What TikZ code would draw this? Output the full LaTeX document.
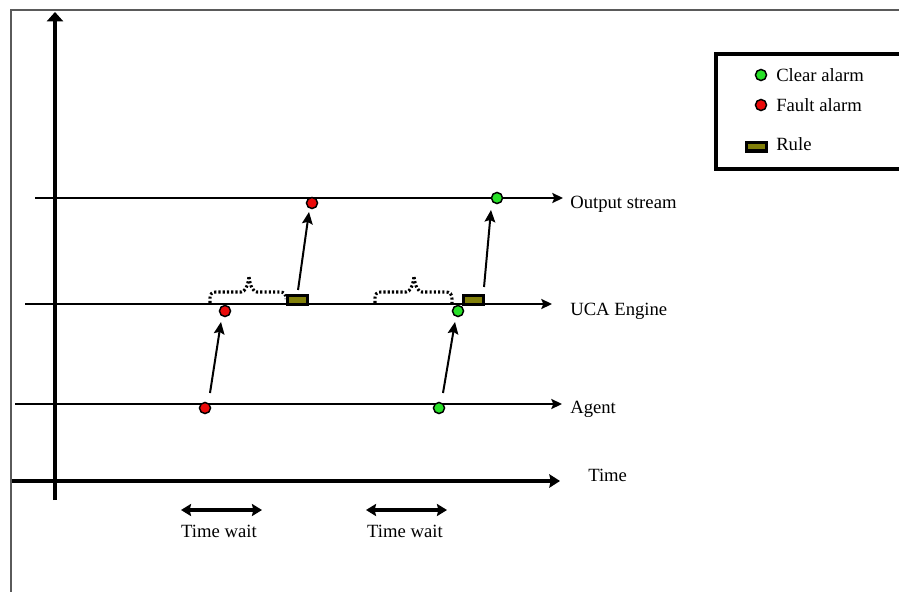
\documentclass[tikz,border=0pt]{standalone}
\usepackage{fontspec}
\setmainfont{Liberation Serif}
\usetikzlibrary{arrows.meta}
\definecolor{dotgreen}{RGB}{40,225,40}
\definecolor{dotred}{RGB}{235,10,10}
\definecolor{ruleolive}{RGB}{130,128,10}
\definecolor{framegray}{RGB}{90,90,90}
\begin{document}
\begin{tikzpicture}[x=0.75pt,y=-0.75pt,
  font=\fontsize{14}{16}\selectfont,
  dot/.style={circle, draw=black, line width=1.1pt, minimum size=8.3pt, inner sep=0pt},
  rulebox/.style={draw=black, line width=2.4pt, fill=ruleolive, minimum width=15pt, minimum height=6.6pt, inner sep=0pt},
  stream/.style={line width=1.6pt, -{Stealth[length=8pt,width=7.5pt,inset=1.5pt]}},
  timeaxis/.style={line width=2.8pt, -{Stealth[length=8pt,width=10pt,inset=1pt]}},
  vaxis/.style={line width=2.4pt, -{Triangle[length=7pt,width=12pt]}},
  evarrow/.style={line width=1.5pt, -{Stealth[length=9pt,width=8pt,inset=1.5pt]}},
  twarrow/.style={line width=2.6pt, {Stealth[length=7.5pt,width=9pt,inset=1pt]}-{Stealth[length=7.5pt,width=9pt,inset=1pt]}},
  brace/.style={line width=2.3pt, dash pattern=on 1.6pt off 1.6pt},
  lbl/.style={anchor=base west, inner sep=0pt},
  twlbl/.style={anchor=base, inner sep=0pt},
  legendframe/.style={line width=2.6pt},
  frame/.style={draw=framegray, line width=1.1pt}
]
\useasboundingbox (0,0) rectangle (899,592);
% outer frame
\draw[frame] (11,592) -- (11,10) -- (899,10);
% axes
\coordinate (vB) at (55,500);
\coordinate (vT) at (55,12);
\draw[vaxis] (vB) -- (vT);
\coordinate (tS) at (12,481);
\coordinate (tE) at (560,481);
\draw[timeaxis] (tS) -- (tE);
\node[lbl] (timeL) at (588,481) {Time};
% streams
\coordinate (oS) at (35,198);
\coordinate (oE) at (563,198);
\draw[stream] (oS) -- (oE);
\node[lbl] (oL) at (570,208) {Output stream};
\coordinate (uS) at (25,304);
\coordinate (uE) at (552,304);
\draw[stream] (uS) -- (uE);
\node[lbl] (uL) at (570,315) {UCA Engine};
\coordinate (aS) at (15,404);
\coordinate (aE) at (562,404);
\draw[stream] (aS) -- (aE);
\node[lbl] (aL) at (570,413) {Agent};
% braces
\draw[brace] (210,303) -- (210,298) .. controls (210,294) and (212,292) .. (216,292) -- (241,292)
  .. controls (245,292) and (248,286) .. (249,276) .. controls (250,286) and (253,292) .. (257,292)
  -- (280,292) .. controls (284,292) and (286,294) .. (286,299);
\draw[brace] (375,303) -- (375,298) .. controls (375,294) and (377,292) .. (381,292) -- (406,292)
  .. controls (410,292) and (413,286) .. (414,276) .. controls (415,286) and (418,292) .. (422,292)
  -- (446,292) .. controls (450,292) and (452,294) .. (452,299) -- (452,303);
% events
\node[dot,fill=dotred] (aF) at (205,408) {};
\node[dot,fill=dotgreen] (aC) at (439,408) {};
\node[dot,fill=dotred] (uF) at (225,311) {};
\node[dot,fill=dotgreen] (uC) at (458,311) {};
\node[dot,fill=dotred] (oF) at (312,203) {};
\node[dot,fill=dotgreen] (oC) at (497,198) {};
\node[rulebox] (r1) at (297.5,300) {};
\node[rulebox] (r2) at (473.5,300) {};
% connectors
\draw[evarrow] ([xshift=3.75pt,yshift=11.25pt]aF.center) -- ([xshift=-3pt,yshift=-8.25pt]uF.center);
\draw[evarrow] ([xshift=3pt,yshift=11.25pt]aC.center) -- ([xshift=-2.25pt,yshift=-8.25pt]uC.center);
\draw[evarrow] ([xshift=0.4pt,yshift=7.5pt]r1.center) -- ([xshift=-2.25pt,yshift=-6.75pt]oF.center);
\draw[evarrow] ([xshift=7.9pt,yshift=9.75pt]r2.center) -- ([xshift=-4.5pt,yshift=-9pt]oC.center);
% time wait
\coordinate (w1a) at (181,510);
\coordinate (w1b) at (262,510);
\draw[twarrow] (w1a) -- (w1b);
\node[twlbl] (w1L) at (219,537) {Time wait};
\coordinate (w2a) at (366,510);
\coordinate (w2b) at (447,510);
\draw[twarrow] (w2a) -- (w2b);
\node[twlbl] (w2L) at (405,537) {Time wait};
% legend
\draw[legendframe] (899,54) -- (716,54) -- (716,169) -- (899,169);
\node[dot,fill=dotgreen] (lgC) at (761,75) {};
\node[lbl] (lgCL) at (776,81) {Clear alarm};
\node[dot,fill=dotred] (lgF) at (761,105) {};
\node[lbl] (lgFL) at (776,111) {Fault alarm};
\node[rulebox] (lgR) at (756.5,146.5) {};
\node[lbl] (lgRL) at (776,150) {Rule};
\end{tikzpicture}
\end{document}
